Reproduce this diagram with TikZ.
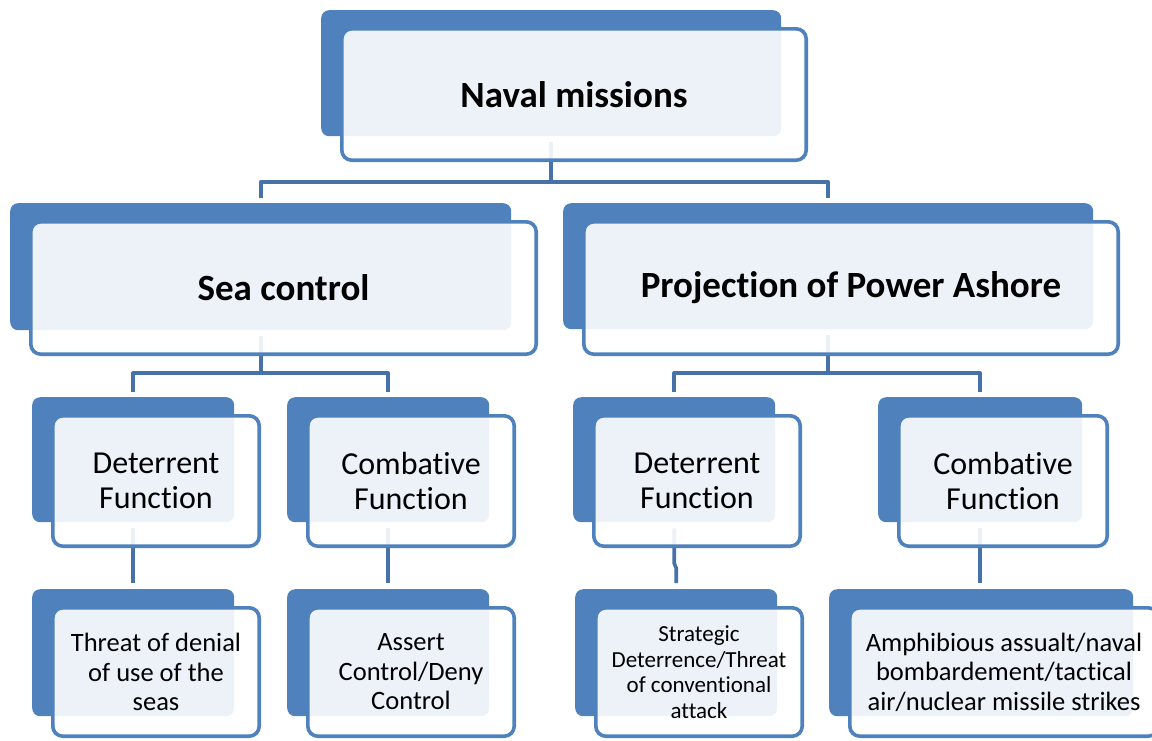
\documentclass[tikz,border=0pt]{standalone}
\usepackage{fontspec}
\setmainfont{Carlito}[Ligatures=NoCommon]
\usetikzlibrary{backgrounds,calc}
\definecolor{accent}{HTML}{4F81BD}
\definecolor{conn}{HTML}{4672A9}
\tikzset{
  backbox/.style={fill=accent, draw=none, rounded corners=8pt, inner sep=0pt, anchor=north west},
  frontbox/.style={draw=accent, line width=3.6pt, fill=white, fill opacity=0.9, text opacity=1,
    rounded corners=10pt, inner sep=0pt, align=center},
  bigtxt/.style={font=\fontsize{37}{44}\selectfont\bfseries},
  midtxt/.style={font=\fontsize{32}{35}\selectfont},
  leaftxt/.style={font=\fontsize{26.5}{29.5}\selectfont},
  smalltxt/.style={font=\fontsize{23}{25.6}\selectfont},
  link/.style={draw=conn, line width=3.6pt, line join=round},
}
% #1 name, #2..#5 back box (x1,y1,x2,y2), #6 front bottom, #7 text style, #8 text
\newcommand\mkunit[8]{%
  \pgfmathsetmacro\uBW{#4-#2}\pgfmathsetmacro\uBH{#5-#3}%
  \pgfmathsetmacro\uFXA{#2+19}\pgfmathsetmacro\uFYA{#3+17}%
  \pgfmathsetmacro\uFXB{#4+27}%
  \pgfmathsetmacro\uFCX{(\uFXA+\uFXB)/2}\pgfmathsetmacro\uFCY{(\uFYA+#6)/2}%
  \pgfmathsetmacro\uFW{\uFXB-\uFXA-3.6}\pgfmathsetmacro\uFH{#6-\uFYA-3.6}%
  \node[backbox, minimum width=\uBW pt, minimum height=\uBH pt] (#1b) at (#2,#3) {};
  \node[frontbox, #7, minimum width=\uFW pt, minimum height=\uFH pt] (#1) at (\uFCX,\uFCY) {#8};
}
\begin{document}
\begin{tikzpicture}[x=1pt,y=-1pt]
\useasboundingbox (0,0) rectangle (1152,740);
\clip (0,0) rectangle (1152,740);

\mkunit{naval}{321}{10}{781}{136}{162}{bigtxt}{Naval missions}
\mkunit{sea}{10}{203}{511}{330}{356}{bigtxt}{Sea control}
\mkunit{proj}{563}{203}{1093}{329}{356}{bigtxt}{Projection of Power Ashore}
\mkunit{detL}{32}{397}{234}{522}{548}{midtxt}{Deterrent\\Function}
\mkunit{comL}{287}{397}{489}{522}{548}{midtxt}{Combative\\Function}
\mkunit{detR}{573}{397}{775}{522}{548}{midtxt}{Deterrent\\Function}
\mkunit{comR}{878}{397}{1082}{522}{548}{midtxt}{Combative\\Function}
\mkunit{leafA}{32}{589}{234}{716}{738}{leaftxt}{Threat of denial\\of use of the\\seas}
\mkunit{leafB}{287}{589}{489}{716}{738}{leaftxt}{Assert\\Control/Deny\\Control}
\mkunit{leafC}{575}{589}{777}{716}{738}{smalltxt}{Strategic\\Deterrence/Threat\\of conventional\\attack}
\mkunit{leafD}{829}{589}{1133}{716}{738}{leaftxt}{Amphibious assualt/naval\\bombardement/tactical\\air/nuclear missile strikes}

\begin{scope}[on background layer]
  \coordinate (j1) at ([yshift=21pt]seab.north);
  \draw[link] ([yshift=-6pt]navalb.south) -- (navalb.south |- j1);
  \draw[link] ([yshift=5pt]seab.north) |- (j1 -| projb.north) -- ([yshift=5pt]projb.north);

  \coordinate (j2) at ([yshift=24pt]detLb.north);
  \draw[link] ([yshift=-6pt]seab.south) -- (seab.south |- j2);
  \draw[link] ([yshift=5pt]detLb.north) |- (j2 -| comLb.north) -- ([yshift=5pt]comLb.north);

  \coordinate (j3) at ([yshift=24pt]detRb.north);
  \draw[link] ([yshift=-6pt]projb.south) -- (projb.south |- j3);
  \draw[link] ([yshift=5pt]detRb.north) |- (j3 -| comRb.north) -- ([yshift=5pt]comRb.north);

  \draw[link] ([yshift=-6pt]detLb.south) -- ([yshift=6pt]leafAb.north);
  \draw[link] ([yshift=-6pt]comLb.south) -- ([yshift=6pt]leafBb.north);
  \coordinate (k1) at ([yshift=-41pt]detRb.south);
  \coordinate (k2) at ([yshift=21pt]leafCb.north);
  \draw[link] ([yshift=-6pt]detRb.south) -- (k1) -- (k2) -- ([yshift=6pt]leafCb.north);
  \draw[link] ([yshift=-6pt]comRb.south) -- ([yshift=6pt]leafDb.north -| comRb.south);
\end{scope}
\end{tikzpicture}
\end{document}
